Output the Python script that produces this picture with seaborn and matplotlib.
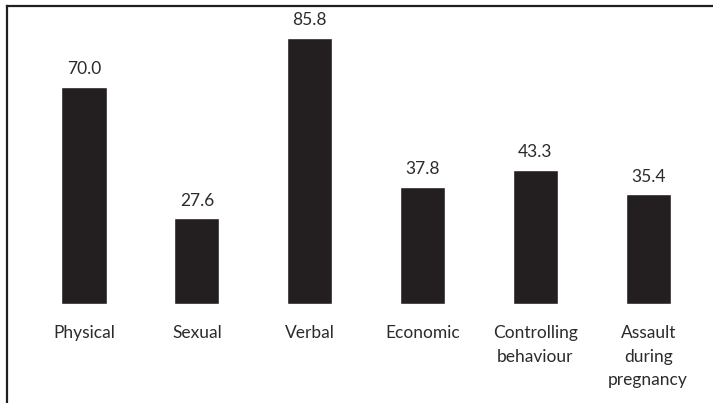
import matplotlib
matplotlib.use("Agg")
import matplotlib.pyplot as plt
from matplotlib.lines import Line2D
import seaborn as sns
import pandas as pd

categories = ["Physical", "Sexual", "Verbal", "Economic",
              "Controlling\nbehaviour", "Assault\nduring\npregnancy"]
values = [70.0, 27.6, 85.8, 37.8, 43.3, 35.4]

sns.set_theme(style="white")
plt.rcParams["font.family"] = ["Lato", "DejaVu Sans"]

ink = "#231f20"
text_ink = "#2b2b2b"
W, H = 713, 403
fig = plt.figure(figsize=(W / 100, H / 100), dpi=100)
fig.patch.set_facecolor("white")

# plot area: zero line at y=304 px, ~3.1 px per unit
ax = fig.add_axes([27.6 / W, 99 / H, 677 / W, 294.5 / H])
df = pd.DataFrame({"cat": categories, "val": values})
sns.barplot(data=df, x="cat", y="val", color=ink, saturation=1,
            width=0.4, ax=ax)
ax.set_xlim(-0.5, 5.5)
ax.set_ylim(0, 95)

for c in ax.containers:
    ax.bar_label(c, fmt="%.1f", padding=7, fontsize=12.5, color=text_ink)

ax.set_xlabel("")
ax.set_ylabel("")
ax.set_yticks([])
ax.tick_params(axis="x", length=0, pad=15, labelsize=12.5, labelcolor=text_ink)
for lbl in ax.get_xticklabels():
    lbl.set_linespacing(1.6)
for s in ax.spines.values():
    s.set_visible(False)
ax.patch.set_alpha(0)

# outer frame: left and top rules
fig.add_artist(Line2D([6.5 / W, 6.5 / W], [0, 1 - 5.5 / H],
                      transform=fig.transFigure, color=ink, lw=1.6,
                      solid_capstyle="projecting"))
fig.add_artist(Line2D([6.5 / W, 1], [1 - 5.5 / H, 1 - 5.5 / H],
                      transform=fig.transFigure, color=ink, lw=1.6,
                      solid_capstyle="projecting"))

fig.savefig("out.png", dpi=100, facecolor="white")
